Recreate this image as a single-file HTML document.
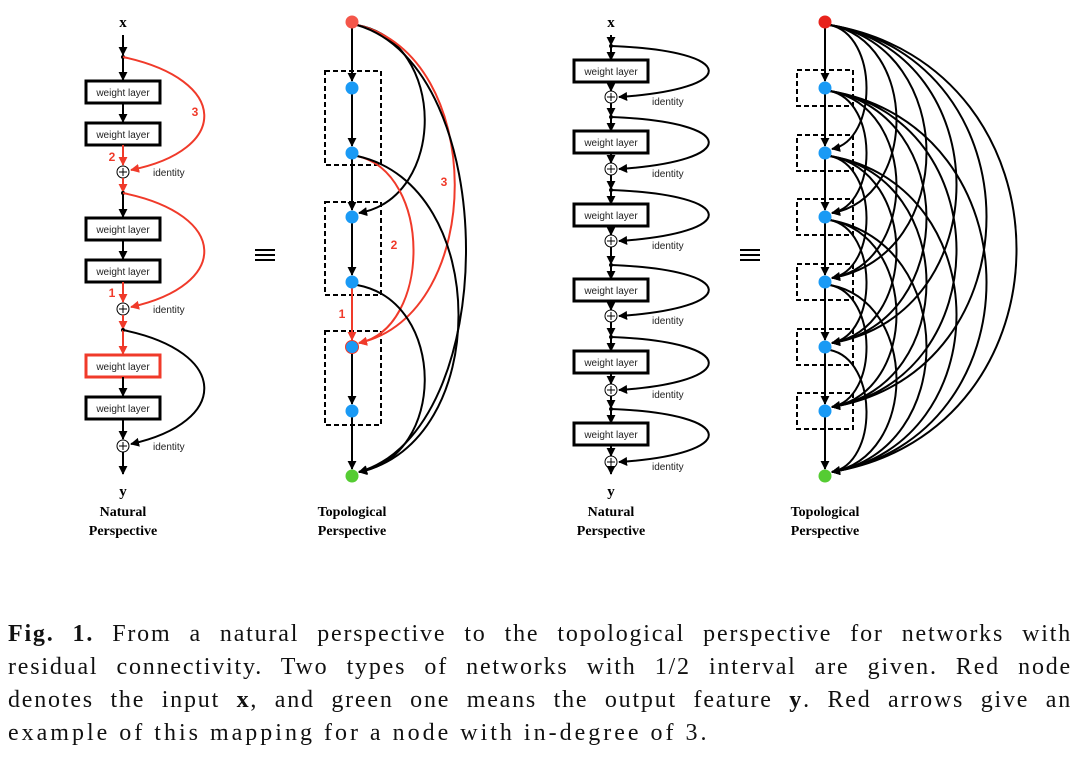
<!DOCTYPE html>
<html><head><meta charset="utf-8"><style>
body{margin:0;width:1080px;height:762px;background:#fff;overflow:hidden;position:relative}
svg{position:absolute;left:0;top:0}
.cap{position:absolute;left:8px;width:1064px;font-family:"Liberation Serif",serif;font-size:24px;color:#111;line-height:33px}
.cap div{text-align:justify;text-align-last:justify;white-space:nowrap;letter-spacing:1.8px}
.cap div.last{text-align-last:left;letter-spacing:3px}
</style></head><body>
<svg id="s" width="1080" height="600" viewBox="0 0 1080 600" font-family="Liberation Sans, sans-serif">
<defs>
<marker id="a" viewBox="0 0 10 10" refX="9" refY="5" markerWidth="9" markerHeight="9" markerUnits="userSpaceOnUse" orient="auto"><path d="M0,0L10,5L0,10z" fill="#000"/></marker>
<marker id="r" viewBox="0 0 10 10" refX="9" refY="5" markerWidth="9" markerHeight="9" markerUnits="userSpaceOnUse" orient="auto"><path d="M0,0L10,5L0,10z" fill="#f03a2a"/></marker>
</defs>
<g id="g"></g>
</svg>
<div class="cap" style="top:618px">
<div><b>Fig. 1.</b> From a natural perspective to the topological perspective for networks with</div>
<div>residual connectivity. Two types of networks with 1/2 interval are given. Red node</div>
<div>denotes the input <b>x</b>, and green one means the output feature <b>y</b>. Red arrows give an</div>
<div class="last">example of this mapping for a node with in-degree of 3.</div>
</div>
<script>
var h='';
function L(x1,y1,x2,y2,red){h+='<line x1="'+x1+'" y1="'+y1+'" x2="'+x2+'" y2="'+y2+'" stroke="'+(red?'#f03a2a':'#000')+'" stroke-width="2" marker-end="url(#'+(red?'r':'a')+')"/>';}
function P(d,red,noarrow){h+='<path d="'+d+'" fill="none" stroke="'+(red?'#f03a2a':'#000')+'" stroke-width="2" '+(noarrow?'':'marker-end="url(#'+(red?'r':'a')+')"')+'/>';}
function T(x,y,t,sz,col,w,anchor,fam){h+='<text x="'+x+'" y="'+y+'" font-size="'+sz+'" fill="'+(col||'#000')+'" font-weight="'+(w||'normal')+'" text-anchor="'+(anchor||'middle')+'"'+(fam?' font-family="'+fam+'"':'')+'>'+t+'</text>';}
function Box(cx,cy,red){h+='<rect x="'+(cx-37)+'" y="'+(cy-11)+'" width="74" height="22" fill="#fff" stroke="'+(red?'#f03a2a':'#000')+'" stroke-width="3"/>';T(cx,cy+4,'weight layer',10,'#222');}
function Plus(cx,cy){h+='<circle cx="'+cx+'" cy="'+cy+'" r="6" fill="#fff" stroke="#000" stroke-width="1"/><path d="M'+(cx-4)+','+cy+'H'+(cx+4)+'M'+cx+','+(cy-4)+'V'+(cy+4)+'" stroke="#000" stroke-width="1"/>';}
function Dot(cx,cy){h+='<circle cx="'+cx+'" cy="'+cy+'" r="2" fill="#000"/>';}
var serif='Liberation Serif, serif';
var c=123;
T(c,27,'x',15,'#000','bold','middle',serif);
L(c,35,c,55);Dot(c,57);L(c,57,c,80);
Box(c,92);L(c,103,c,122);Box(c,134);
L(c,145,c,165,1);T(112,161,'2',12,'#f03a2a','bold');Plus(c,172);
L(c,178,c,192,1);Dot(c,193);
P('M'+c+',57 C230,80 230,150 '+(c+8)+',170',1);T(195,116,'3',12,'#f03a2a','bold');
L(c,193,c,217);Box(c,229);L(c,240,c,259);Box(c,271);
L(c,282,c,302,1);T(112,297,'1',12,'#f03a2a','bold');Plus(c,309);
L(c,315,c,329,1);Dot(c,330);
P('M'+c+',193 C230,215 230,285 '+(c+8)+',307',1);
L(c,330,c,354,1);Box(c,366,1);L(c,377,c,396);Box(c,408);L(c,419,c,439);Plus(c,446);
P('M'+c+',330 C230,352 230,422 '+(c+8)+',444');
L(c,452,c,474);T(c,496,'y',15,'#000','bold','middle',serif);
[172,309,446].forEach(function(y){T(153,y+4,'identity',10,'#222','normal','start');});
T(c,516,'Natural',14,'#000','bold','middle',serif);T(c,535,'Perspective',14,'#000','bold','middle',serif);
[265,750].forEach(function(x){h+='<path d="M'+(x-10)+',250H'+(x+10)+'M'+(x-10)+',255H'+(x+10)+'M'+(x-10)+',260H'+(x+10)+'" stroke="#000" stroke-width="2"/>';});
var tx=352, ny=[22,88,153,217,282,347,411,476];
[[71,165],[202,295],[331,425]].forEach(function(b){h+='<rect x="325" y="'+b[0]+'" width="56" height="'+(b[1]-b[0])+'" fill="none" stroke="#000" stroke-width="2" stroke-dasharray="5,3"/>';});
for(var i=0;i<7;i++){L(tx,ny[i]+6,tx,ny[i+1]-7,i==4);}
function arc(x,y1,y2,off,red){var cx=x+off;P('M'+(x+5)+','+(y1+3)+' C'+cx+','+(y1+(y2-y1)*0.1)+' '+cx+','+(y2-(y2-y1)*0.1)+' '+(x+7)+','+(y2-4),red);}
arc(tx,22,217,95);arc(tx,22,347,135,1);arc(tx,22,476,150);
arc(tx,153,347,80,1);arc(tx,153,476,140);arc(tx,282,476,95);
T(444,186,'3',12,'#f03a2a','bold');T(394,249,'2',12,'#f03a2a','bold');T(342,318,'1',12,'#f03a2a','bold');
h+='<circle cx="'+tx+'" cy="22" r="6.5" fill="#f4564a"/>';
for(var i=1;i<7;i++)h+='<circle cx="'+tx+'" cy="'+ny[i]+'" r="6.5" fill="#1a9af5"'+(i==5?' stroke="#f03a2a" stroke-width="1"':'')+'/>';
h+='<circle cx="'+tx+'" cy="476" r="6.5" fill="#55cc33"/>';
T(tx,516,'Topological',14,'#000','bold','middle',serif);T(tx,535,'Perspective',14,'#000','bold','middle',serif);
var c2=611, bys=[71,142,215,290,362,434], pys=[97,169,241,316,390,462];
T(c2,27,'x',15,'#000','bold','middle',serif);
var prev=35;
for(var k=0;k<6;k++){var by=bys[k],py=pys[k],dy=by-25;
 L(c2,prev,c2,dy-1);Dot(c2,dy);L(c2,dy,c2,by-11);Box(c2,by);L(c2,by+11,c2,py-6);Plus(c2,py);
 P('M'+c2+','+dy+' C740,'+(dy+5)+' 740,'+(py-8)+' '+(c2+8)+','+py);
 T(652,py+8,'identity',10,'#222','normal','start');prev=py+6;}
L(c2,468,c2,474);T(c2,496,'y',15,'#000','bold','middle',serif);
T(c2,516,'Natural',14,'#000','bold','middle',serif);T(c2,535,'Perspective',14,'#000','bold','middle',serif);
var t2=825;
for(var i=1;i<7;i++){var y=ny[i];h+='<rect x="797" y="'+(y-18)+'" width="56" height="36" fill="none" stroke="#000" stroke-width="2" stroke-dasharray="5,3"/>';}
for(var i=0;i<7;i++){L(t2,ny[i]+6,t2,ny[i+1]-7);}
for(var i=0;i<6;i++)for(var j=i+2;j<8;j++){var s=j-i,pk=30*s-20;arc(t2,ny[i],ny[j],pk/0.75);}
h+='<circle cx="'+t2+'" cy="22" r="6.5" fill="#e8231c"/>';
for(var i=1;i<7;i++)h+='<circle cx="'+t2+'" cy="'+ny[i]+'" r="6.5" fill="#1a9af5"/>';
h+='<circle cx="'+t2+'" cy="476" r="6.5" fill="#55cc33"/>';
T(t2,516,'Topological',14,'#000','bold','middle',serif);T(t2,535,'Perspective',14,'#000','bold','middle',serif);
document.getElementById('g').innerHTML=h;
</script>
</body></html>
